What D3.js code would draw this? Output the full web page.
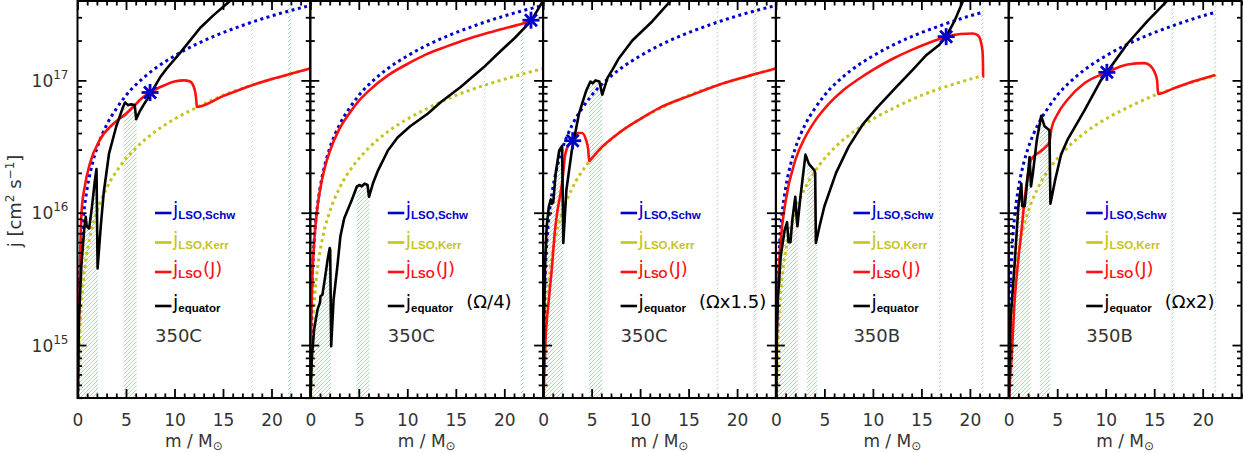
<!DOCTYPE html>
<html>
<head>
<meta charset="utf-8">
<script src="https://cdn.jsdelivr.net/npm/d3@7"></script>
<style>
  body { margin: 0; background: #fff; }
  svg { display: block; font-family: "DejaVu Sans", "Liberation Sans", sans-serif; }
</style>
</head>
<body>
<svg id="chart" width="1243" height="453"></svg>
<script>
// ---- data (m in Msun, j in cm^2/s) ----
var X_TICKS = [ 0, 5, 10, 15, 20 ];
var Y_TICKS = [ 1e15, 1e16, 1e17 ];
var X_DOMAIN = [ 0, 24 ];
var Y_DOMAIN = [ 3.98e14, 3.98e17 ];

var model_labels = [ "350C", "350C", "350C", "350B", "350B" ];
var omega_notes = [ "", "(\u03A9/4)", "(\u03A9x1.5)", "", "(\u03A9x2)" ];
var legend_subs = [ "LSO,Schw", "LSO,Kerr", "LSO", "equator" ];
var legend_tails = [ "", "", "(J)", "" ];

var schw_350C = [ [0.026,4.0e14], [0.04,6.1e14], [0.06,9.2e14], [0.1,1.53e15], [0.15,2.3e15], [0.2,3.07e15],
  [0.3,4.6e15], [0.45,6.9e15], [0.65,1.0e16], [1,1.53e16], [1.5,2.3e16], [2,3.07e16], [3,4.6e16], [4,6.1e16],
  [5,7.7e16], [6.5,1.0e17], [8,1.23e17], [10,1.53e17], [12,1.84e17], [14.5,2.22e17], [17,2.6e17], [20,3.07e17], [24,3.68e17] ];
var kerr_350C = [ [0.078,4.0e14], [0.12,6.1e14], [0.18,9.2e14], [0.3,1.53e15], [0.45,2.3e15], [0.6,3.07e15],
  [0.9,4.6e15], [1.35,6.9e15], [2,1.02e16], [3,1.53e16], [4.5,2.3e16], [6,3.07e16], [8,4.1e16], [10,5.1e16],
  [12,6.1e16], [15,7.7e16], [18,9.2e16], [21,1.07e17], [24,1.23e17] ];
var schw_350B = [ [0.026,4.0e14], [0.04,6.1e14], [0.06,9.2e14], [0.1,1.53e15], [0.15,2.3e15], [0.2,3.07e15],
  [0.3,4.6e15], [0.45,6.9e15], [0.65,1.0e16], [1,1.53e16], [1.5,2.3e16], [2,3.07e16], [3,4.6e16], [4,6.1e16],
  [5,7.7e16], [6.5,1.0e17], [8,1.23e17], [10,1.53e17], [12,1.84e17], [14.5,2.22e17], [17,2.6e17], [20,3.07e17], [21.4,3.28e17] ];
var kerr_350B = [ [0.078,4.0e14], [0.12,6.1e14], [0.18,9.2e14], [0.3,1.53e15], [0.45,2.3e15], [0.6,3.07e15],
  [0.9,4.6e15], [1.35,6.9e15], [2,1.02e16], [3,1.53e16], [4.5,2.3e16], [6,3.07e16], [8,4.1e16], [10,5.1e16],
  [12,6.1e16], [15,7.7e16], [18,9.2e16], [21.4,1.09e17] ];

// j_LSO(J)
var jlso_1 = [ [0.02,4.0e14], [0.1,1.0e15], [0.24,3.5e15], [0.41,1.0e16], [0.75,1.58e16], [1.27,2.34e16],
  [2.3,3.55e16], [3.7,4.7e16], [5.0,5.6e16], [5.75,6.3e16], [6.5,7.2e16], [7.48,8.1e16], [8.85,9.1e16],
  [10.0,9.8e16], [11.0,1.0e17], [11.6,9.8e16], [12.0,8.9e16], [12.2,7.6e16], [12.28,6.6e16], [12.3,6.3e16],
  [15,7.6e16], [18,9.2e16], [21,1.07e17], [24,1.23e17] ];
var jlso_2 = [ [0.03,4.4e14], [0.06,9.0e14], [0.1,1.5e15], [0.2,3.0e15], [0.4,6.0e15], [0.7,1.05e16],
  [1,1.48e16], [1.5,2.2e16], [2,2.9e16], [3,4.3e16], [4,5.6e16], [5,7.0e16], [6,8.3e16], [8,1.09e17],
  [10,1.33e17], [12,1.58e17], [14,1.8e17], [16,2.03e17], [18,2.25e17], [20,2.47e17], [22,2.7e17], [22.75,2.82e17] ];
var jlso_3 = [ [0.03,4.0e14], [0.1,5.6e14], [0.24,1.05e15], [0.59,2.2e15], [0.93,4.0e15], [1.2,7.1e15],
  [1.45,1.0e16], [1.8,1.41e16], [2.0,1.78e16], [2.3,2.8e16], [2.7,3.3e16], [3.1,3.55e16], [3.6,4.0e16],
  [4.0,4.0e16], [4.4,3.6e16], [4.65,3.0e16], [4.75,2.45e16], [5,2.57e16], [6,3.1e16], [8,4.1e16],
  [10,5.1e16], [12,6.2e16], [15,7.6e16], [18,9.2e16], [21,1.07e17], [24,1.23e17] ];
var jlso_4 = [ [0.03,4.0e14], [0.1,1.3e15], [0.3,3.7e15], [0.5,6.2e15], [1,1.22e16], [2,2.5e16], [3,3.7e16],
  [4,4.9e16], [5.5,6.7e16], [7,8.5e16], [8.5,1.02e17], [10,1.2e17], [12,1.45e17], [14,1.7e17], [16,1.95e17],
  [17.55,2.14e17], [19,2.24e17], [20.3,2.26e17], [20.8,2.2e17], [21.1,2.0e17], [21.3,1.66e17], [21.35,1.32e17],
  [21.36,1.07e17], [21.5,1.07e17] ];
var jlso_5 = [ [0.03,4.0e14], [0.1,5.0e14], [0.28,7.6e14], [0.62,2.2e15], [0.96,4.2e15], [1.3,7.1e15],
  [1.64,1.26e16], [2.0,2.0e16], [2.3,2.5e16], [2.8,2.75e16], [3.4,2.95e16], [3.85,3.16e16], [4.2,3.4e16],
  [4.4,4.3e16], [5.0,5.5e16], [6.1,7.2e16], [7.8,9.5e16], [10.12,1.15e17], [12.25,1.32e17], [14.0,1.35e17],
  [14.6,1.29e17], [15.0,1.17e17], [15.3,1.0e17], [15.4,7.9e16], [17,8.7e16], [19,9.8e16], [21.3,1.1e17] ];

// j_equator
var jeq_1 = [ [0.03,4.0e14], [0.15,1.6e15], [0.4,4.0e15], [0.7,7.6e15], [0.85,9.3e15], [0.95,7.9e15],
  [1.2,7.6e15], [1.5,1.12e16], [1.8,1.78e16], [1.96,2.14e16], [2.07,3.8e15], [2.4,7.9e15], [2.7,1.41e16],
  [3.25,2.8e16], [4.0,4.5e16], [4.7,6.3e16], [4.9,6.8e16], [5.2,6.5e16], [5.5,6.6e16], [5.9,6.5e16],
  [6.05,5.1e16], [6.4,5.8e16], [6.8,6.5e16], [7.48,7.8e16], [8.5,1.05e17], [9.2,1.23e17], [10.6,1.62e17],
  [12.66,2.5e17], [14.0,3.1e17], [15.75,4.0e17], [16.5,4.5e17] ];
var jeq_2 = [ [0.02,4.0e14], [0.15,7.9e14], [0.4,1.32e15], [0.75,1.86e15], [1.0,2.1e15], [1.05,2.34e15],
  [1.25,2.4e15], [1.5,3.16e15], [1.8,4.5e15], [2.0,5.4e15], [2.05,5.25e15], [2.15,9.8e14], [2.4,2.2e15],
  [2.8,4.0e15], [3.1,6.6e15], [3.5,9.1e15], [4.3,1.26e16], [4.8,1.58e16], [5.1,1.62e16], [5.3,1.58e16],
  [5.6,1.66e16], [5.9,1.62e16], [6.05,1.32e16], [6.5,1.7e16], [7.0,2.1e16], [8.0,2.95e16], [9.0,3.7e16],
  [10.3,4.5e16], [12.1,5.6e16], [13.5,6.9e16], [15.5,8.9e16], [17.9,1.26e17], [19.6,1.66e17], [21.1,2.1e17],
  [22.75,2.8e17], [24,4.0e17] ];
var jeq_3 = [ [0.03,4.0e14], [0.1,1.58e15], [0.2,4.0e15], [0.37,7.9e15], [0.6,1.12e16], [0.8,1.26e16],
  [0.9,1.17e16], [1.05,1.2e16], [1.3,2.0e16], [1.66,2.95e16], [1.96,3.2e16], [2.08,5.9e15], [2.4,1.48e16],
  [2.96,2.95e16], [3.7,5.6e16], [4.43,8.3e16], [4.88,9.8e16], [5.1,9.5e16], [5.4,1.0e17], [5.8,9.8e16],
  [6.1,7.8e16], [6.65,1.05e17], [7.14,1.2e17], [7.76,1.45e17], [9.2,2.0e17], [11.27,2.8e17], [13.16,4.0e17],
  [14,4.6e17] ];
var jeq_4 = [ [0.03,4.0e14], [0.1,1.26e15], [0.2,2.2e15], [0.5,4.7e15], [0.9,7.4e15], [1.15,8.5e15],
  [1.3,6.0e15], [1.5,6.0e15], [1.7,8.9e15], [2.0,1.32e16], [2.15,8.9e15], [2.22,7.9e15], [2.5,1.26e16],
  [3.05,2.75e16], [3.4,2.34e16], [3.95,2.1e16], [4.05,2.0e16], [4.12,5.9e15], [4.5,7.9e15], [5.0,1.12e16],
  [6.2,2.0e16], [7.5,3.16e16], [9.0,4.7e16], [10.5,6.3e16], [12.4,8.9e16], [14.1,1.2e17], [15.5,1.55e17],
  [16.85,1.86e17], [17.55,2.14e17], [18.4,2.8e17], [19.3,4.0e17], [19.8,4.8e17] ];
var jeq_5 = [ [0.03,4.0e14], [0.2,1.58e15], [0.6,4.0e15], [1.0,1.12e16], [1.3,1.66e16], [1.4,1.12e16],
  [1.65,1.12e16], [2.0,2.0e16], [2.15,2.63e16], [2.3,1.58e16], [2.5,2.0e16], [2.9,3.55e16], [3.35,5.4e16],
  [3.7,4.5e16], [4.2,4.2e16], [4.3,1.17e16], [4.8,1.78e16], [5.4,2.75e16], [6.1,3.6e16], [7.8,5.9e16],
  [9.5,1.0e17], [10.12,1.15e17], [12.25,1.9e17], [14.3,2.8e17], [16.35,4.0e17], [17,4.5e17] ];

var stars = [ [7.48,8.1e16], [22.75,2.85e17], [3.05,3.5e16], [17.55,2.14e17], [10.12,1.15e17] ];

var bands_350C = [ [0,2.1], [4.75,6.1], [17.9,18.05], [21.7,22.0] ];
var bands_350B = [ [0,2.25], [3.2,4.25], [16.8,17.0], [21.2,21.4] ];

// ---- layout ----
var PLOT = { left: 77.5, top: 1, bottom: 398, width: 232.8 };
var COLOR = { schw: "#0000cc", kerr: "#c4c41e", lso: "#ff1010", eq: "#000", hatch: "#1fb04a", text: "#333" };
var LEGEND_ROWS = [ 213, 242.5, 272, 306 ];
var legend_colors = [ COLOR.schw, COLOR.kerr, COLOR.lso, COLOR.eq ];

var panels = [
  { schw: schw_350C, kerr: kerr_350C, lso: jlso_1, eq: jeq_1, bands: bands_350C },
  { schw: schw_350C, kerr: kerr_350C, lso: jlso_2, eq: jeq_2, bands: bands_350C },
  { schw: schw_350C, kerr: kerr_350C, lso: jlso_3, eq: jeq_3, bands: bands_350C },
  { schw: schw_350B, kerr: kerr_350B, lso: jlso_4, eq: jeq_4, bands: bands_350B },
  { schw: schw_350B, kerr: kerr_350B, lso: jlso_5, eq: jeq_5, bands: bands_350B }
];

var svg = d3.select( "#chart" );
var defs = svg.append( "defs" );

var y = d3.scaleLog().domain( Y_DOMAIN ).range( [ PLOT.bottom, PLOT.top ] );
var minor_y = y.ticks().filter( function( v ){ return Y_TICKS.indexOf( v ) < 0; } );
var minor_x = d3.range( 0, 25 ).filter( function( v ){ return X_TICKS.indexOf( v ) < 0; } );

panels.forEach( function( panel, p ){
  var left = PLOT.left + p * PLOT.width;
  var right = left + PLOT.width;
  var x = d3.scaleLinear().domain( X_DOMAIN ).range( [ left, right ] );
  var g = svg.append( "g" ).attr( "class", "panel-" + p );

  defs.append( "clipPath" )
    .attr( "id", "clip-" + p )
    .append( "rect" )
    .attr( "x", left ).attr( "y", PLOT.top )
    .attr( "width", PLOT.width ).attr( "height", PLOT.bottom - PLOT.top );

  var plot = g.append( "g" ).attr( "clip-path", "url(#clip-" + p + ")" );

  // hatched zones: band columns, below j_equator
  var last = panel.eq[ panel.eq.length - 1 ];
  defs.append( "clipPath" )
    .attr( "id", "under-" + p )
    .append( "path" )
    .attr( "d", d3.area()
      .x( function( d ){ return x( d[ 0 ] ); } )
      .y0( PLOT.bottom )
      .y1( function( d ){ return y( d[ 1 ] ); } )( panel.eq.concat( [ [ X_DOMAIN[ 1 ], last[ 1 ] ] ] ) ) );

  var hatch = plot.append( "g" ).attr( "clip-path", "url(#under-" + p + ")" );
  var span = PLOT.bottom - PLOT.top;
  panel.bands.forEach( function( b, k ){
    var x0 = x( b[ 0 ] ), x1 = x( b[ 1 ] );
    defs.append( "clipPath" )
      .attr( "id", "band-" + p + "-" + k )
      .append( "rect" )
      .attr( "x", x0 ).attr( "y", PLOT.top )
      .attr( "width", Math.max( x1 - x0, 1 ) ).attr( "height", span );
    hatch.append( "g" )
      .attr( "clip-path", "url(#band-" + p + "-" + k + ")" )
      .selectAll( "line" )
      .data( d3.range( Math.floor( ( x0 - span ) / 4 ) * 4, x1 + 4, 4 ) )
      .enter().append( "line" )
      .attr( "x1", function( d ){ return d; } ).attr( "y1", PLOT.bottom )
      .attr( "x2", function( d ){ return d + span; } ).attr( "y2", PLOT.top )
      .style( "stroke", COLOR.hatch ).style( "stroke-width", "0.8px" )
      .style( "stroke-opacity", 0.55 );
  } );

  var smooth = d3.line()
    .x( function( d ){ return x( d[ 0 ] ); } )
    .y( function( d ){ return y( d[ 1 ] ); } )
    .curve( d3.curveMonotoneX );
  var straight = d3.line()
    .x( function( d ){ return x( d[ 0 ] ); } )
    .y( function( d ){ return y( d[ 1 ] ); } );

  plot.append( "path" ).datum( panel.kerr )
    .attr( "fill", "none" ).attr( "stroke", COLOR.kerr )
    .attr( "stroke-width", 3 ).attr( "stroke-dasharray", "3 3.5" )
    .attr( "d", smooth );
  plot.append( "path" ).datum( panel.schw )
    .attr( "fill", "none" ).attr( "stroke", COLOR.schw )
    .attr( "stroke-width", 3 ).attr( "stroke-dasharray", "3 3.5" )
    .attr( "d", smooth );
  plot.append( "path" ).datum( panel.lso )
    .attr( "fill", "none" ).attr( "stroke", COLOR.lso )
    .attr( "stroke-width", 2.6 ).attr( "stroke-linejoin", "round" )
    .attr( "d", smooth );
  plot.append( "path" ).datum( panel.eq )
    .attr( "fill", "none" ).attr( "stroke", COLOR.eq )
    .attr( "stroke-width", 2.6 ).attr( "stroke-linejoin", "round" )
    .attr( "d", straight );

  // asterisk where j_equator meets j_LSO
  var sx = x( stars[ p ][ 0 ] ), sy = y( stars[ p ][ 1 ] );
  [ 0, 45, 90, 135 ].forEach( function( a ){
    var r = 8.5, t = a * Math.PI / 180;
    g.append( "line" )
      .attr( "x1", sx - r * Math.cos( t ) ).attr( "y1", sy - r * Math.sin( t ) )
      .attr( "x2", sx + r * Math.cos( t ) ).attr( "y2", sy + r * Math.sin( t ) )
      .attr( "stroke", COLOR.schw ).attr( "stroke-width", 2.8 );
  } );

  // axes, ticks pointing inwards
  var bottom_axis = g.append( "g" )
    .attr( "transform", "translate(0," + PLOT.bottom + ")" )
    .call( d3.axisBottom( x ).tickValues( X_TICKS ).tickSize( -9 ).tickSizeOuter( 0 ).tickPadding( 16 ) );
  bottom_axis.selectAll( "text" )
    .style( "font-size", "17px" )
    .attr( "fill", COLOR.text );
  g.append( "g" )
    .attr( "transform", "translate(0," + PLOT.bottom + ")" )
    .call( d3.axisBottom( x ).tickValues( minor_x ).tickSize( -4.5 ).tickSizeOuter( 0 ).tickFormat( "" ) );
  g.append( "g" )
    .attr( "transform", "translate(0," + PLOT.top + ")" )
    .call( d3.axisTop( x ).tickValues( X_TICKS ).tickSize( -9 ).tickSizeOuter( 0 ).tickFormat( "" ) );
  g.append( "g" )
    .attr( "transform", "translate(0," + PLOT.top + ")" )
    .call( d3.axisTop( x ).tickValues( minor_x ).tickSize( -4.5 ).tickSizeOuter( 0 ).tickFormat( "" ) );

  var left_axis = g.append( "g" )
    .attr( "transform", "translate(" + left + ",0)" )
    .call( d3.axisLeft( y ).tickValues( Y_TICKS ).tickSize( -9 ).tickSizeOuter( 0 ).tickFormat( "" ) );
  g.append( "g" )
    .attr( "transform", "translate(" + left + ",0)" )
    .call( d3.axisLeft( y ).tickValues( minor_y ).tickSize( -4.5 ).tickSizeOuter( 0 ).tickFormat( "" ) );
  g.append( "g" )
    .attr( "transform", "translate(" + right + ",0)" )
    .call( d3.axisRight( y ).tickValues( Y_TICKS ).tickSize( -9 ).tickSizeOuter( 0 ).tickFormat( "" ) );
  g.append( "g" )
    .attr( "transform", "translate(" + right + ",0)" )
    .call( d3.axisRight( y ).tickValues( minor_y ).tickSize( -4.5 ).tickSizeOuter( 0 ).tickFormat( "" ) );

  g.selectAll( ".domain" ).remove();
  g.selectAll( ".tick line" ).attr( "stroke", "#000" ).attr( "stroke-width", 1.8 );
  g.selectAll( "g" ).attr( "font-family", null );

  if( p == 0 ){
    var lab = left_axis.selectAll( ".tick" )
      .append( "text" )
      .attr( "x", -9 ).attr( "y", 6 )
      .attr( "text-anchor", "end" )
      .attr( "fill", COLOR.text );
    lab.append( "tspan" ).style( "font-size", "17px" ).text( "10" );
    lab.append( "tspan" ).style( "font-size", "12px" ).attr( "dy", -8 )
      .text( function( d ){ return Math.round( Math.log10( d ) ); } );
  }

  g.append( "rect" )
    .attr( "x", left ).attr( "y", PLOT.top )
    .attr( "width", PLOT.width ).attr( "height", PLOT.bottom - PLOT.top )
    .attr( "fill", "none" ).attr( "stroke", "#000" ).attr( "stroke-width", 2 );

  // x title
  var xt = g.append( "text" )
    .attr( "x", left + PLOT.width / 2 ).attr( "y", 447 )
    .attr( "text-anchor", "middle" ).attr( "fill", COLOR.text )
    .style( "font-size", "17px" );
  xt.append( "tspan" ).text( "m / M" );
  xt.append( "tspan" ).attr( "dy", 3 ).style( "font-size", "12px" ).text( "\u2299" );

  // legend
  legend_subs.forEach( function( sub, i ){
    var ry = LEGEND_ROWS[ i ];
    g.append( "line" )
      .attr( "x1", left + 77.5 ).attr( "x2", left + 94 )
      .attr( "y1", ry ).attr( "y2", ry )
      .attr( "stroke", legend_colors[ i ] ).attr( "stroke-width", 2.6 );
    var t = g.append( "text" )
      .attr( "x", left + 95.5 ).attr( "y", ry + 3 )
      .attr( "fill", legend_colors[ i ] );
    t.append( "tspan" ).style( "font-size", "19px" ).text( "j" );
    t.append( "tspan" ).attr( "dy", 3 )
      .style( "font-family", "'Liberation Sans', Arial, sans-serif" )
      .style( "font-size", "11.5px" ).style( "font-weight", "bold" ).text( sub );
    if( legend_tails[ i ] ){
      t.append( "tspan" ).attr( "dy", -3 ).attr( "dx", 1 ).style( "font-size", "18px" ).text( legend_tails[ i ] );
    }
  } );

  if( omega_notes[ p ] ){
    g.append( "text" )
      .attr( "x", left + 156 ).attr( "y", 308 )
      .attr( "fill", "#000" ).style( "font-size", "18px" )
      .text( omega_notes[ p ] );
  }

  g.append( "text" )
    .attr( "x", left + 77.5 ).attr( "y", 341.5 )
    .attr( "fill", COLOR.text ).style( "font-size", "18px" )
    .text( model_labels[ p ] );
} );

// y title
var yt = svg.append( "text" )
  .attr( "transform", "translate(21,201) rotate(-90)" )
  .attr( "text-anchor", "middle" ).attr( "fill", COLOR.text )
  .style( "font-size", "18px" );
yt.append( "tspan" ).text( "j [cm" );
yt.append( "tspan" ).attr( "dy", -7 ).style( "font-size", "12px" ).text( "2" );
yt.append( "tspan" ).attr( "dy", 7 ).text( " s" );
yt.append( "tspan" ).attr( "dy", -7 ).style( "font-size", "12px" ).text( "\u22121" );
yt.append( "tspan" ).attr( "dy", 7 ).text( "]" );
</script>
</body>
</html>
